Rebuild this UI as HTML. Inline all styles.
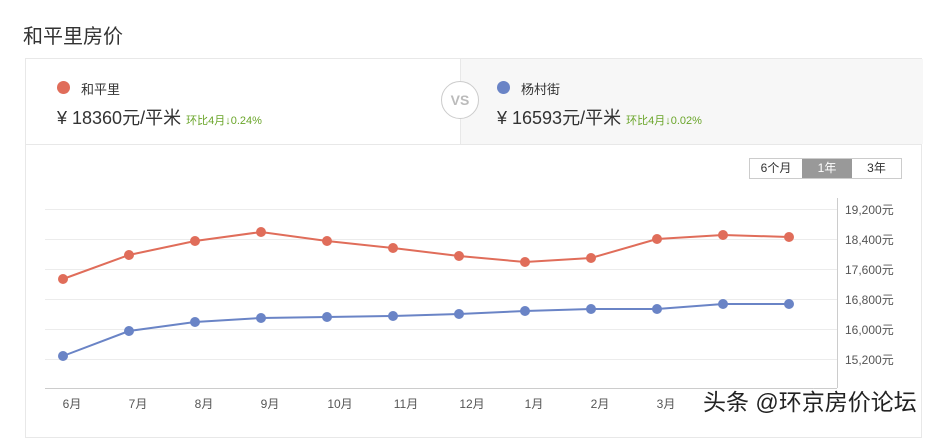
<!DOCTYPE html><html><head><meta charset="utf-8"><style>
body{margin:0;width:934px;height:423px;background:#fff;font-family:"Liberation Sans","Noto Sans CJK SC",sans-serif;overflow:hidden;position:relative}
.a{position:absolute}
</style></head><body>
<div class="a" style="left:23px;top:20px;font-size:20px;color:#333">和平里房价</div>
<div class="a" style="left:25px;top:58px;width:897px;height:380px;border:1px solid #e8e8e8;box-sizing:border-box"></div>
<div class="a" style="left:460px;top:59px;width:462px;height:85px;background:#f7f7f7;border-left:1px solid #e8e8e8"></div>
<div class="a" style="left:26px;top:144px;width:896px;height:1px;background:#e8e8e8"></div>
<div class="a" style="left:441px;top:81px;width:36px;height:36px;border:1px solid #ccc;border-radius:50%;background:#fff;color:#bbb;font-size:14px;font-weight:bold;line-height:36px;text-align:center">VS</div>
<div class="a" style="left:57px;top:81px;width:13px;height:13px;border-radius:50%;background:#e06d5a"></div>
<div class="a" style="left:81px;top:79px;font-size:13px;color:#333">和平里</div>
<div class="a" style="left:57px;top:104px;font-size:18px;color:#333">¥ 18360元/平米 <span style="font-size:11px;color:#6aa52a">环比4月↓0.24%</span></div>
<div class="a" style="left:497px;top:81px;width:13px;height:13px;border-radius:50%;background:#6a84c6"></div>
<div class="a" style="left:521px;top:79px;font-size:13px;color:#333">杨村街</div>
<div class="a" style="left:497px;top:104px;font-size:18px;color:#333">¥ 16593元/平米 <span style="font-size:11px;color:#6aa52a">环比4月↓0.02%</span></div>
<div class="a" style="left:749px;top:158px;width:153px;height:21px;border:1px solid #ccc;box-sizing:border-box;font-size:12px;color:#333;display:flex;line-height:19px;text-align:center">
<div style="width:52px">6个月</div><div style="width:50px;background:#999;color:#fff">1年</div><div style="flex:1">3年</div></div>
<svg class="a" style="left:0;top:0" width="934" height="423">
<g stroke="#ececec" stroke-width="1">
<line x1="45" x2="837" y1="209.5" y2="209.5"/><line x1="45" x2="837" y1="239.5" y2="239.5"/><line x1="45" x2="837" y1="269.5" y2="269.5"/><line x1="45" x2="837" y1="299.5" y2="299.5"/><line x1="45" x2="837" y1="329.5" y2="329.5"/><line x1="45" x2="837" y1="359.5" y2="359.5"/></g>
<line x1="45" x2="837" y1="388.5" y2="388.5" stroke="#ccc"/>
<line x1="837.5" x2="837.5" y1="198" y2="388" stroke="#ccc"/>
<g font-size="12" fill="#555">
<text x="845" y="214">19,200元</text><text x="845" y="244">18,400元</text><text x="845" y="274">17,600元</text><text x="845" y="304">16,800元</text><text x="845" y="334">16,000元</text><text x="845" y="364">15,200元</text></g>
<g font-size="12" fill="#555" text-anchor="middle">
<text x="72" y="408">6月</text><text x="138" y="408">7月</text><text x="204" y="408">8月</text><text x="270" y="408">9月</text><text x="340" y="408">10月</text><text x="406" y="408">11月</text><text x="472" y="408">12月</text><text x="534" y="408">1月</text><text x="600" y="408">2月</text><text x="666" y="408">3月</text></g>
<polyline fill="none" stroke="#e06d5a" stroke-width="2" points="63,279 129,255 195,241 261,232 327,241 393,248 459,256 525,262 591,258 657,239 723,235 789,237"/>
<g fill="#e06d5a"><circle cx="63" cy="279" r="5"/><circle cx="129" cy="255" r="5"/><circle cx="195" cy="241" r="5"/><circle cx="261" cy="232" r="5"/><circle cx="327" cy="241" r="5"/><circle cx="393" cy="248" r="5"/><circle cx="459" cy="256" r="5"/><circle cx="525" cy="262" r="5"/><circle cx="591" cy="258" r="5"/><circle cx="657" cy="239" r="5"/><circle cx="723" cy="235" r="5"/><circle cx="789" cy="237" r="5"/></g>
<polyline fill="none" stroke="#6a84c6" stroke-width="2" points="63,356 129,331 195,322 261,318 327,317 393,316 459,314 525,311 591,309 657,309 723,304 789,304"/>
<g fill="#6a84c6"><circle cx="63" cy="356" r="5"/><circle cx="129" cy="331" r="5"/><circle cx="195" cy="322" r="5"/><circle cx="261" cy="318" r="5"/><circle cx="327" cy="317" r="5"/><circle cx="393" cy="316" r="5"/><circle cx="459" cy="314" r="5"/><circle cx="525" cy="311" r="5"/><circle cx="591" cy="309" r="5"/><circle cx="657" cy="309" r="5"/><circle cx="723" cy="304" r="5"/><circle cx="789" cy="304" r="5"/></g>
<text x="703" y="410" font-size="23" fill="#222" stroke="#fff" stroke-width="3" paint-order="stroke">头条 @环京房价论坛</text>
</svg>
</body></html>
